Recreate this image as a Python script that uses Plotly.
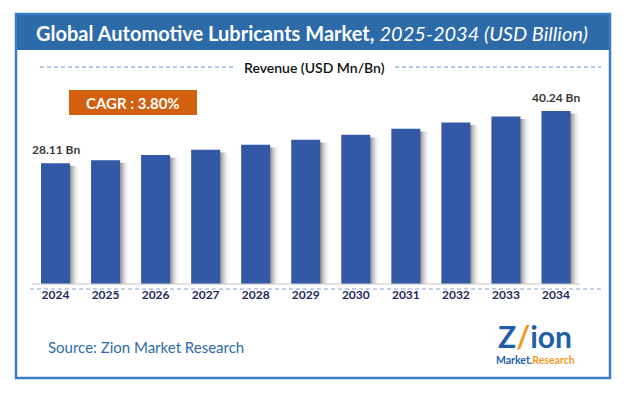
import plotly.graph_objects as go

years = ["2024", "2025", "2026", "2027", "2028", "2029", "2030", "2031", "2032", "2033", "2034"]
revenue = [28.11, 28.78, 30.03, 31.20, 32.37, 33.54, 34.70, 36.10, 37.57, 38.97, 40.24]
bar_labels = ["28.11 Bn", "", "", "", "", "", "", "", "", "", "40.24 Bn"]

title_main = "Global Automotive Lubricants Market,"
title_sub = "2025-2034 (USD Billion)"
legend_text = "Revenue (USD Mn/Bn)"
cagr_text = "CAGR : 3.80%"
source_text = "Source: Zion Market Research"

W, H = 627, 396
FONT = "Lato, 'Open Sans', sans-serif"


def px(x):
    return x / W


def py(y):
    return 1 - y / H


fig = go.Figure()

# shadow layers
for k, op in enumerate([0.22, 0.16, 0.11, 0.07, 0.04, 0.02]):
    fig.add_trace(go.Bar(
        x=years, y=[v - 0.6 for v in revenue],
        width=0.58, offset=-0.29 + 0.03 * (k + 1),
        marker=dict(color=f"rgba(60,60,60,{op})", line=dict(width=0)),
        hoverinfo="skip", showlegend=False,
    ))

fig.add_trace(go.Bar(
    x=years, y=revenue, width=0.58, offset=-0.29,
    marker=dict(color="#3258A6", line=dict(width=0)),
    showlegend=False,
))

y_top_px = 100
y_range_max = 40.24 * (284 - y_top_px) / (284 - 111)

fig.update_layout(
    width=W, height=H,
    margin=dict(l=0, r=0, t=0, b=0, autoexpand=False),
    paper_bgcolor="white", plot_bgcolor="white",
    barmode="overlay",
    xaxis=dict(
        type="category",
        domain=[px(30.5), px(581)],
        range=[-0.5, 10.5],
        showgrid=False, zeroline=False, showline=False,
        tickfont=dict(family=FONT, size=12, color="#1F2A5C", weight="bold"),
        ticks="", ticklabelstandoff=2,
    ),
    yaxis=dict(
        domain=[py(284), py(y_top_px)],
        range=[0, y_range_max],
        visible=False,
    ),
    font=dict(family=FONT),
)

shapes = []
# title band
shapes.append(dict(type="rect", xref="paper", yref="paper",
                   x0=px(16), x1=px(610), y0=py(50), y1=py(14),
                   fillcolor="#2D6BA8", line=dict(width=0), layer="below"))
# outer border
shapes.append(dict(type="rect", xref="paper", yref="paper",
                   x0=px(16), x1=px(610), y0=py(378), y1=py(14),
                   fillcolor="rgba(0,0,0,0)", line=dict(color="#3A7DC5", width=2.5)))
# legend dashed lines
for x0, x1 in [(40, 233), (395, 601)]:
    shapes.append(dict(type="line", xref="paper", yref="paper",
                       x0=px(x0), x1=px(x1), y0=py(67), y1=py(67),
                       line=dict(color="#6A92D6", width=1, dash="4px,3px")))
# axis line
shapes.append(dict(type="line", xref="paper", yref="paper",
                   x0=px(32), x1=px(580), y0=py(284), y1=py(284),
                   line=dict(color="#C8C8C8", width=1.2)))
# bottom dashed line
shapes.append(dict(type="line", xref="paper", yref="paper",
                   x0=px(30), x1=px(601), y0=py(289), y1=py(289),
                   line=dict(color="#86A6DE", width=1, dash="4px,3px")))
# CAGR box
shapes.append(dict(type="rect", xref="paper", yref="paper",
                   x0=px(69), x1=px(197), y0=py(115), y1=py(90),
                   fillcolor="#D2600E", line=dict(width=0)))
fig.update_layout(shapes=shapes)

ann = []
ann.append(dict(xref="paper", yref="paper", x=px(312), y=py(33),
                text=f"<b>{title_main}</b> <i>{title_sub}</i>",
                showarrow=False, xanchor="center", yanchor="middle",
                font=dict(family=FONT, size=20, color="white")))
ann.append(dict(xref="paper", yref="paper", x=px(314), y=py(67),
                text=legend_text, showarrow=False,
                xanchor="center", yanchor="middle",
                font=dict(family=FONT, size=14, color="#111111", weight=600)))
ann.append(dict(xref="paper", yref="paper", x=px(133), y=py(102.5),
                text=f"<b>{cagr_text}</b>", showarrow=False,
                xanchor="center", yanchor="middle",
                font=dict(family=FONT, size=15, color="white")))
for i, (v, t) in enumerate(zip(revenue, bar_labels)):
    if t:
        ann.append(dict(xref="x", yref="y", x=i, y=v, text=f"<b>{t}</b>",
                        showarrow=False, xanchor="center", yanchor="bottom",
                        yshift=4,
                        font=dict(family=FONT, size=12, color="#3A3A3A")))
ann.append(dict(xref="paper", yref="paper", x=px(46), y=py(347),
                text=source_text, showarrow=False,
                xanchor="left", yanchor="middle",
                font=dict(family=FONT, size=15, color="#2E6CA8")))
# logo (text approximation)
ann.append(dict(xref="paper", yref="paper", x=px(535), y=py(336),
                text="<b>Z<span style='color:#F39A1E'>/</span>ion</b>", showarrow=False,
                xanchor="center", yanchor="middle",
                font=dict(family=FONT, size=30, color="#1F5FA8")))
ann.append(dict(xref="paper", yref="paper", x=px(535), y=py(360),
                text="<b>Market.<span style='color:#F39A1E'>Research</span></b>",
                showarrow=False, xanchor="center", yanchor="middle",
                font=dict(family=FONT, size=10.5, color="#1F5FA8")))
fig.update_layout(annotations=ann)

fig.write_html("out.html",
               config={"displayModeBar": False},
               post_script="document.body.style.margin='0';document.body.style.overflow='hidden';")
